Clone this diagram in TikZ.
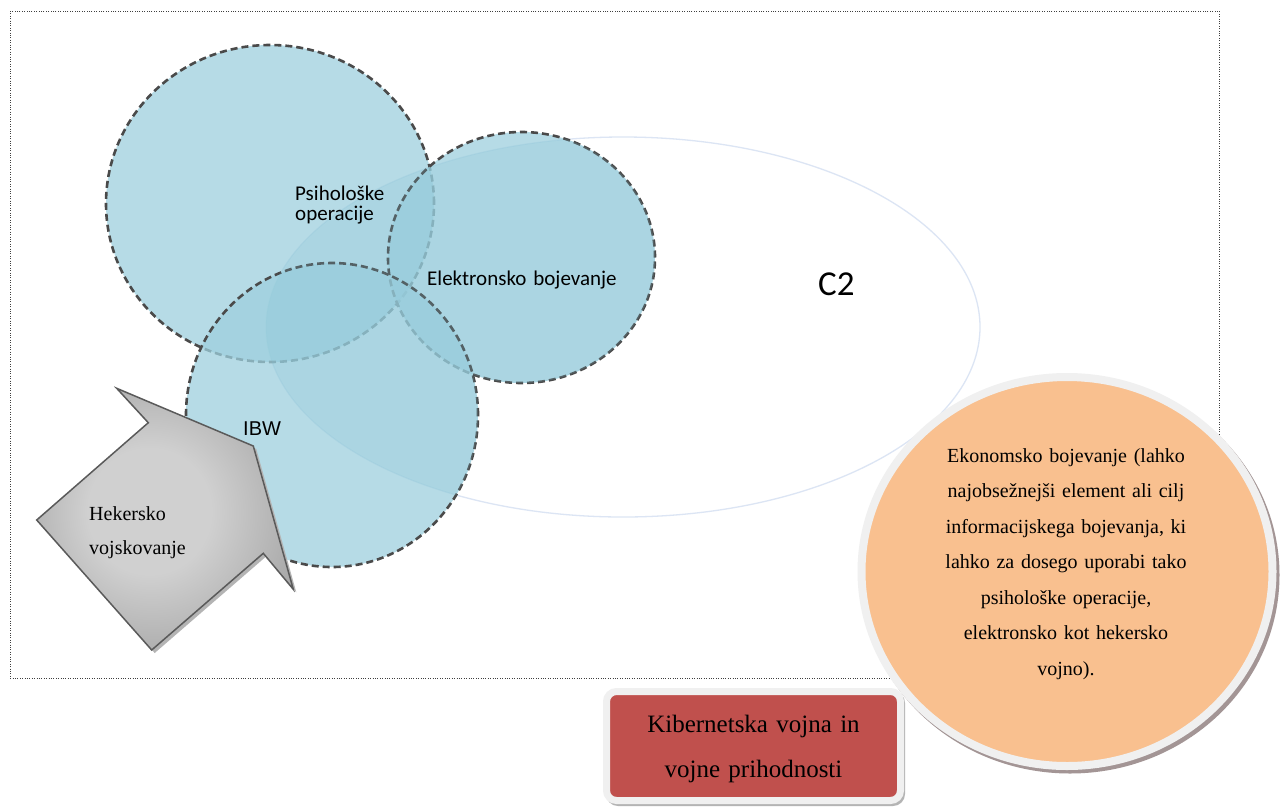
\documentclass[tikz,border=0pt]{standalone}
\usepackage{fontspec}
\setmainfont{Liberation Serif}
\newfontfamily\calibfont{Carlito}
\newfontfamily\arialfont{Liberation Sans}
\definecolor{circfill}{HTML}{9ED0DE}
\definecolor{circline}{HTML}{4A4A4A}
\definecolor{ovl}{HTML}{7FC0D4}
\definecolor{c2line}{HTML}{DCE5F4}
\definecolor{framecol}{HTML}{3F3F3F}
\definecolor{arrlight}{HTML}{D0D0D0}
\definecolor{arrdark}{HTML}{7C7C7C}
\definecolor{arrline}{HTML}{5A5A5A}
\definecolor{arrshadow}{HTML}{B4B4B4}
\definecolor{orangefill}{HTML}{F9C08F}
\definecolor{ringcol}{HTML}{F0F0F0}
\definecolor{shadowcol}{HTML}{A39595}
\definecolor{redfill}{HTML}{C0504D}
\pgfdeclareradialshading{arrowshade}{\pgfpoint{-4bp}{2bp}}{color(0bp)=(arrlight); color(12bp)=(arrlight); color(48bp)=(arrdark); color(50bp)=(arrdark)}
\begin{document}
\begin{tikzpicture}[x=1pt,y=-1pt,
  bubble/.style={fill=circfill, fill opacity=0.75, draw=circline, line width=2.6pt, dash pattern=on 7pt off 4pt},
  framebox/.style={draw=framecol, line width=0.9pt, dash pattern=on 1pt off 1.4pt},
  sanslabel/.style={inner sep=0pt, font=\calibfont\fontsize{21}{20.5}\selectfont, text width=120pt, align=left},
  seriflabel/.style={inner sep=0pt, font=\fontsize{20}{34}\selectfont, text width=150pt, align=left},
  econtext/.style={inner sep=0pt, font=\fontsize{20}{35.5}\selectfont, text width=340pt, align=center},
  redtext/.style={inner sep=0pt, font=\fontsize{25}{45}\selectfont, text width=290pt, align=center}]
\useasboundingbox (0,0) rectangle (1282,807);
\fill[white] (0,0) rectangle (1282,807);

% dotted frame
\draw[framebox] (10,11) rectangle (1219,678);

% C2 ellipse outline
\draw[c2line, line width=1.3pt] (623,327) ellipse [x radius=357pt, y radius=190pt];

% circles
\path[bubble] (270,203.5) ellipse [x radius=164pt, y radius=158.5pt];
\path[bubble] (521.5,257.5) ellipse [x radius=133.5pt, y radius=125.5pt];
\path[bubble] (332,415) ellipse [x radius=146pt, y radius=152pt];

% C2 ellipse tint over circles
\begin{scope}
  \clip (623,327) ellipse [x radius=357pt, y radius=190pt];
  \fill[ovl, opacity=0.2] (270,203.5) ellipse [x radius=164pt, y radius=158.5pt]
                          (521.5,257.5) ellipse [x radius=133.5pt, y radius=125.5pt]
                          (332,415) ellipse [x radius=146pt, y radius=152pt];
\end{scope}

% labels in circles
\node[sanslabel, anchor=base west] (psi) at (295,200) {Psihološke\\operacije};
\node[sanslabel, anchor=base west, text width=220pt] (ele) at (427,285) {Elektronsko bojevanje};
\node[inner sep=0pt, anchor=base west, font=\arialfont\fontsize{20}{24}\selectfont] (ibw) at (243,435) {IBW};
\node[inner sep=0pt, anchor=base west, font=\calibfont\fontsize{35}{40}\selectfont] (c2) at (818,295) {C2};

% hacker arrow
\fill[arrshadow] (39.7,523) -- (151.3,425.7) -- (119.7,391.3) -- (256.3,449) -- (296.3,592.3) -- (266.3,556.3) -- (154.7,653) -- cycle;
\draw[arrline, line width=1.5pt, shading=arrowshade] (36.7,520) -- (148.3,422.7) -- (116.7,388.3) -- (253.3,446) -- (293.3,589.3) -- (263.3,553.3) -- (151.7,650) -- cycle;
\node[seriflabel, anchor=base west] (hek) at (89,520) {Hekersko\\vojskovanje};

% economic warfare circle
\fill[shadowcol] (1070,575) ellipse [x radius=209.5pt, y radius=198.5pt];
\draw[ringcol, line width=8pt, fill=orangefill] (1067,571.5) ellipse [x radius=205.5pt, y radius=194.5pt];
\node[econtext, anchor=base] (eko) at (1066,462) {Ekonomsko bojevanje (lahko\\najobsežnejši element ali cilj\\informacijskega bojevanja, ki\\lahko za dosego uporabi tako\\psihološke operacije,\\elektronsko kot hekersko\\vojno).};

% title box
\fill[arrshadow, rounded corners=12pt] (606,691) rectangle (905,806);
\draw[ringcol, line width=7pt, fill=redfill, rounded corners=10pt] (606.5,691.5) rectangle (900.5,800.5);
\node[redtext, anchor=base] (title) at (753.5,732) {Kibernetska vojna in\\vojne prihodnosti};
\end{tikzpicture}
\end{document}
